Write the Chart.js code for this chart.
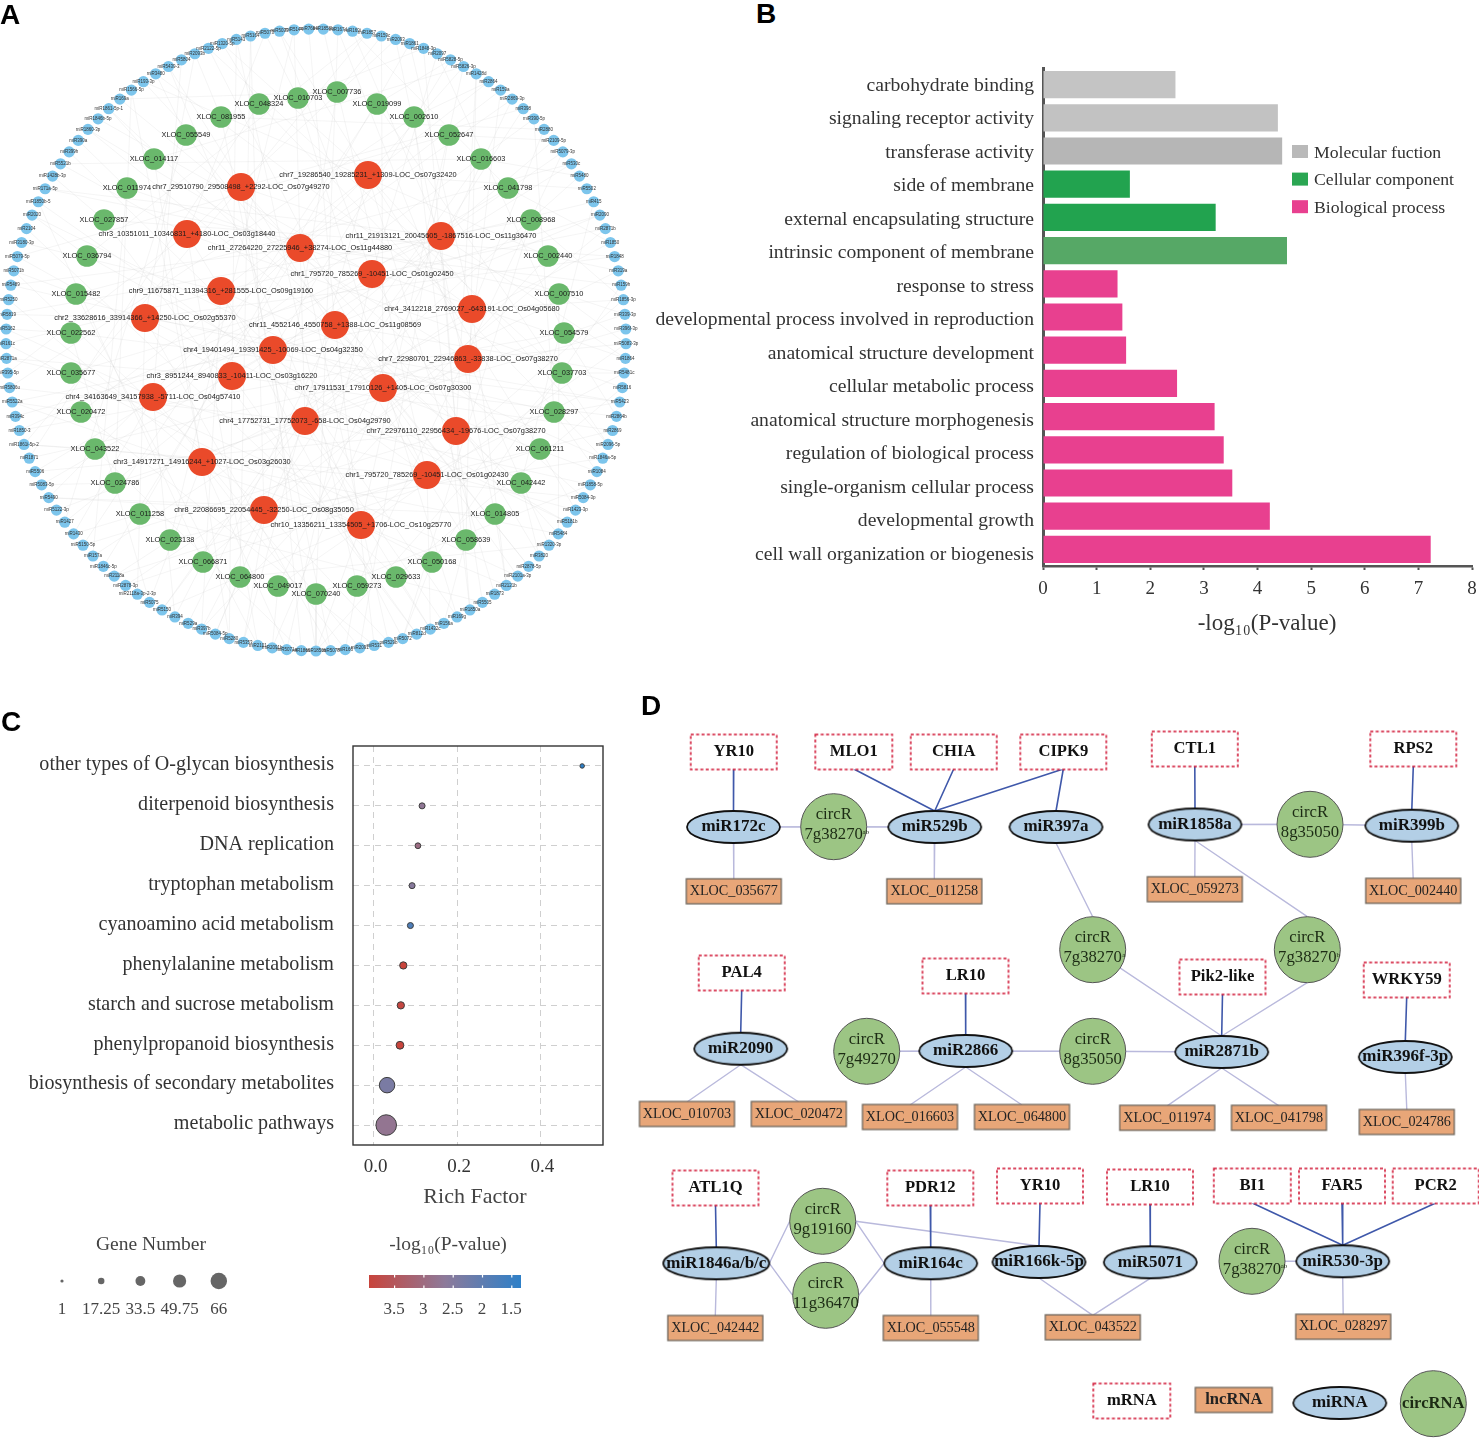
<!DOCTYPE html>
<html>
<head>
<meta charset="utf-8">
<title>circRNA network and enrichment</title>
<script src="https://cdn.jsdelivr.net/npm/chart.js"></script>
<style>
  body { margin: 0; background: #fff; }
  #page { position: relative; width: 1479px; height: 1438px; overflow: hidden; }
  canvas { position: absolute; }
  .letter { position: absolute; font: bold 28px "Liberation Sans", sans-serif; color: #000; line-height: 28px; }
</style>
</head>
<body>
<div id="page">
  <canvas id="chartA" width="650" height="665" style="left:0;top:0"></canvas>
  <canvas id="chartB" width="839" height="590" style="left:640px;top:60px"></canvas>
  <canvas id="chartC" width="630" height="610" style="left:0;top:730px"></canvas>
  <canvas id="chartD" width="849" height="738" style="left:630px;top:700px"></canvas>
  <div class="letter" style="left:0;top:1px">A</div>
  <div class="letter" style="left:756px;top:0">B</div>
  <div class="letter" style="left:1px;top:708px">C</div>
  <div class="letter" style="left:641px;top:692px">D</div>
</div>
<script>
// Panel A - network, node positions
const ringLabels = [
  'miR1858b','miR167d','miR169i','miR1857','miR159c','miR2093','miR1861','miR1848-3p','miR2097','miR5828-5p',
  'miR5826-3p','miR1428d','miR2864','miR159a','miR2869-3p','miR398','miR390-5p','miR2880','miR2109-5p','miR5079-3p',
  'miR530c','miR5480','miR5502','miR415','miR2090','miR2871b','miR1850','miR1848','miR319a','miR159h',
  'miR1856-3p','miR339-3p','miR396f-3p','miR5083-3p','miR1864','miR5481c','miR5816','miR5423','miR2864b','miR2869',
  'miR2096-5p','miR1846a-5p','miR1084','miR1858-5p','miR5084-3p','miR1423-3p','miR5181b','miR5484','miR1320-3p','miR3820',
  'miR2878-5p','miR2101a-3p','miR2121b','miR1873','miR5505','miR1850a','miR169g','miR156a','miR1432c','miR812d',
  'miR5072','miR529b','miR531','miR2091','miR166','miR5078','miR1850b','miR1866','miR5071a','miR2091b',
  'miR2101','miR5353','miR5280','miR5084-5p','miR397b','miR529a','miR394','miR5150','miR5075','miR2118a-3p-2-3p',
  'miR2878-3p','miR2118a','miR1846c-5p','miR157a','miR5150-5p','miR1430','miR1427','miR5122-3p','miR5490','miR5083-5p',
  'miR5506','miR1871','miR1861i-5p-2','miR1850-3','miR394c','miR5522a','miR5806u','miR395-5p','miR2871a','miR161c',
  'miR5162','miR5819','miR5250','miR5489','miR5071b','miR5079-5p','miR3180-3p','miR2104','miR2020','miR1850b-5',
  'miR171a-5p','miR1428b-3p','miR5521b','miR399h','miR390a','miR1860-3p','miR1846b-5p','miR1861-5p-1','miR169a','miR1566-5p',
  'miR193-3p','miR3480','miR5439-3','miR5804','miR2093b','miR2122-5p','miR1320-5p','miR5143','miR5164','miR5073',
  'miR5033','miR5144','miR7694'
];
const lncNames = [
  'XLOC_007736','XLOC_019099','XLOC_002610','XLOC_052647','XLOC_016603','XLOC_041798','XLOC_008968','XLOC_002440',
  'XLOC_007510','XLOC_054579','XLOC_037703','XLOC_028297','XLOC_061211','XLOC_042442','XLOC_014805','XLOC_058639',
  'XLOC_050168','XLOC_029633','XLOC_059273','XLOC_070240','XLOC_049017','XLOC_064800','XLOC_066871','XLOC_023138',
  'XLOC_011258','XLOC_024786','XLOC_043522','XLOC_020472','XLOC_035677','XLOC_022562','XLOC_015482','XLOC_036794',
  'XLOC_027857','XLOC_011974','XLOC_014117','XLOC_055549','XLOC_081955','XLOC_048324','XLOC_010703'
];
const lncX = [337,377,414,449,481,508,531,548,559,564,562,554,540,521,495,466,432,396,357,316,278,240,203,170,140,115,95,81,71,71,76,87,104,127,154,186,221,259,298];
const lncY = [92,104,117,135,159,188,220,256,294,333,373,412,449,483,514,540,562,577,586,594,586,577,562,540,514,483,449,412,373,333,294,256,220,188,159,135,117,104,98];
const lncLinks = [
  [4,71,118],[9,84,40],[12,96,55],[18,63,105],[21,77,112],[26,90,2],[30,101,60],[28,120,74],
  [33,110,47],[38,8,93],[35,125,66],[42,16,103],[45,130,80],[49,23,115],[52,88,5],[57,11,122],
  [60,29,99],[58,107,36],[64,19,127],[66,1,43],[69,33,14],[73,48,128],[76,25,109],[81,39,131],
  [85,6,54],[89,31,119],[92,44,67],[95,13,62],[98,51,24],[100,37,78],[104,20,70],[108,46,3],
  [111,59,27],[114,34,83],[117,10,72],[121,50,86],[124,17,65],[126,41,91],[129,7,56]
];
const circNames = [
  'chr7_29510790_29508498_+2292-LOC_Os07g49270','chr7_19286540_19285231_+1309-LOC_Os07g32420',
  'chr3_10351011_10346831_+4180-LOC_Os03g18440','chr11_27264220_27225946_+38274-LOC_Os11g44880',
  'chr11_21913121_20045605_-1867516-LOC_Os11g36470','chr1_795720_785269_-10451-LOC_Os01g02450',
  'chr9_11675871_11394316_+281555-LOC_Os09g19160','chr4_3412218_2769027_-643191-LOC_Os04g05680',
  'chr2_33628616_33914366_+14250-LOC_Os02g55370','chr11_4552146_4550758_+1388-LOC_Os11g08569',
  'chr4_19401494_19391425_-10069-LOC_Os04g32350','chr7_22980701_22946863_-33838-LOC_Os07g38270',
  'chr3_8951244_8940833_-10411-LOC_Os03g16220','chr7_17911531_17910126_+1405-LOC_Os07g30300',
  'chr4_34163649_34157938_-5711-LOC_Os04g57410','chr4_17752731_17752073_-658-LOC_Os04g29790',
  'chr7_22976110_22956434_-19676-LOC_Os07g38270','chr3_14917271_14916244_+1027-LOC_Os03g26030',
  'chr1_795720_785269_-10451-LOC_Os01g02430','chr8_22086695_22054445_-32250-LOC_Os08g35050',
  'chr10_13356211_13354505_+1706-LOC_Os10g25770'
];
const circX = [241,368,187,300,441,372,221,472,145,335,273,468,232,383,153,305,456,202,427,264,361];
const circY = [187,175,234,248,236,274,291,309,318,325,350,359,376,388,397,421,431,462,475,510,525];
const circLinks = [
  [3,47,92,120,15,66,31],[10,53,88,126,22,71,40],[112,36,70,5,58,97,129],[14,61,103,29,82,44,118],
  [19,77,110,2,55,93,34],[25,68,116,8,49,86,130],[106,41,74,12,60,99,23],[30,83,121,6,52,95,17],
  [101,37,65,124,27,79,46],[18,62,94,132,35,75,50],[113,42,67,9,56,89,24],[33,80,115,1,48,91,13],
  [105,39,72,20,59,98,127],[28,69,108,4,51,87,38],[100,45,76,123,16,63,85],[21,57,96,131,32,73,43],
  [37,84,117,7,54,90,11],[102,64,78,26,119,47,68],[35,81,109,0,58,92,125],[74,104,41,128,15,61,88],
  [52,77,122,30,66,95,10]
];

// Panel B - GO enrichment
const goTerms = [
  'carbohydrate binding','signaling receptor activity','transferase activity','side of membrane',
  'external encapsulating structure','intrinsic component of membrane','response to stress',
  'developmental process involved in reproduction','anatomical structure development','cellular metabolic process',
  'anatomical structure morphogenesis','regulation of biological process','single-organism cellular process',
  'developmental growth','cell wall organization or biogenesis'
];
const goValues = [2.47, 4.38, 4.46, 1.62, 3.22, 4.55, 1.39, 1.48, 1.55, 2.5, 3.2, 3.37, 3.53, 4.23, 7.23];
const goColors = ['#c4c4c4','#c2c2c2','#b6b6b6','#22a34f','#22a34f','#56a866','#e8408f','#e8408f','#e8408f','#e8408f','#e8408f','#e8408f','#e8408f','#e8408f','#e8408f'];
const goLegend = ['Molecular fuction', 'Cellular component', 'Biological process'];
const goLegendColors = ['#b9b9b9', '#2aa652', '#e8408f'];

// Panel C - KEGG dots
const pathways = [
  'other types of O-glycan biosynthesis','diterpenoid biosynthesis','DNA replication','tryptophan metabolism',
  'cyanoamino acid metabolism','phenylalanine metabolism','starch and sucrose metabolism','phenylpropanoid biosynthesis',
  'biosynthesis of secondary metabolites','metabolic pathways'
];
const richFactor = [0.5, 0.116, 0.106, 0.092, 0.088, 0.071, 0.065, 0.063, 0.032, 0.03];
const geneNumber = [3, 9, 8, 9, 9, 14, 14, 16, 46, 66];
const logP = [1.5, 2.55, 2.75, 2.45, 1.85, 3.5, 3.45, 3.5, 2.3, 2.6];
const richTicks = [0, 0.2, 0.4];
const geneLegend = [1, 17.25, 33.5, 49.75, 66];
const logPLegend = [3.5, 3, 2.5, 2, 1.5];

// Panel D - regulatory network, nodes are placed by page position
const mrnaNames = ['YR10','MLO1','CHIA','CIPK9','CTL1','RPS2','PAL4','LR10','Pik2-like','WRKY59','ATL1Q','PDR12','YR10','LR10','BI1','FAR5','PCR2','mRNA'];
const mrnaX = [733.7,853.8,953.7,1063.3,1194.8,1413.3,741.7,965.5,1222.5,1406.7,715.5,930.3,1040,1150,1252.3,1342,1435.7,1131.8];
const mrnaY = [752,752,752,752,749,749,973,976,977,980,1188,1188,1186,1187,1186,1186,1186,1401];
const mirNames = ['miR172c','miR529b','miR397a','miR1858a','miR399b','miR2090','miR2866','miR2871b','miR396f-3p','miR1846a/b/c','miR164c','miR166k-5p','miR5071','miR530-3p','miRNA'];
const mirX = [733.5,934.7,1056,1195,1411.8,740.7,965.7,1221.7,1405.3,716.3,930.7,1039,1150.3,1342.7,1339.8];
const mirY = [827,827,827,824.5,825.7,1048.7,1051,1052,1057,1263.3,1263.3,1262,1262.3,1261.3,1403];
const lncBoxNames = ['XLOC_035677','XLOC_011258','XLOC_059273','XLOC_002440','XLOC_010703','XLOC_020472','XLOC_016603','XLOC_064800','XLOC_011974','XLOC_041798','XLOC_024786','XLOC_042442','XLOC_055548','XLOC_043522','XLOC_028297','lncRNA'];
const lncBoxX = [733.8,934.3,1194.8,1413.2,687,798.8,910,1022,1167.2,1279,1406.8,715.3,930.8,1092.8,1343.2,1233.8];
const lncBoxY = [891.3,891.3,889.2,890.8,1114,1114,1117,1117,1117.8,1117.8,1122,1328,1328,1327.3,1326.7,1400];
const circTop = ['circR','circR','circR','circR','circR','circR','circR','circR','circR',''];
const circBottom = ['7g38270','8g35050','7g38270','7g38270','7g49270','8g35050','9g19160','11g36470','7g38270','circRNA'];
const circSup = ['ab','','a','b','','','','','ab',''];
const circNodeX = [833.7,1310,1092.7,1307.3,866.7,1092.7,822.7,825.7,1252,1433.3];
const circNodeY = [826.7,824.3,949.7,949.7,1051.3,1051.3,1221.3,1295.3,1261.3,1403.7];
// [mRNA, miRNA]
const targetEdges = [[0,0],[1,1],[2,1],[3,1],[3,2],[4,3],[5,4],[6,5],[7,6],[8,7],[9,8],[10,9],[11,10],[12,11],[13,12],[14,13],[15,13],[16,13]];
// [miRNA, lncRNA]
const lncEdges = [[0,0],[1,1],[3,2],[4,3],[5,4],[5,5],[6,6],[6,7],[7,8],[7,9],[8,10],[9,11],[10,12],[11,13],[12,13],[13,14]];
// [miRNA, side, circRNA, side]  c centre, t top, b bottom, l left, r right
const circEdges = [
  [0,'c',0,'c'],[1,'c',0,'c'],[3,'c',1,'c'],[4,'c',1,'c'],[2,'b',2,'t'],[3,'b',3,'t'],[7,'t',2,'c'],[7,'t',3,'b'],
  [6,'c',4,'c'],[6,'c',5,'c'],[7,'c',5,'c'],[9,'r',6,'l'],[9,'r',7,'l'],[10,'l',6,'r'],[10,'l',7,'r'],[11,'t',6,'r'],[13,'c',8,'c']
];

Chart.defaults.animation = false;
Chart.defaults.responsive = false;
Chart.defaults.layout.autoPadding = false;
Chart.defaults.plugins.legend.display = false;
Chart.defaults.plugins.tooltip.enabled = false;

const SERIF = '"Liberation Serif", serif';
const SANS = '"Liberation Sans", sans-serif';

function pts(xs, ys) {
  return xs.map((x, i) => ({ x: x, y: ys[i] }));
}

// two point segments split by NaN so one dataset holds the whole edge list
function segments(list) {
  const out = [];
  list.forEach(s => { out.push(s[0], s[1], { x: NaN, y: NaN }); });
  return out;
}

function labelPoints(chart, index, labels, font, color) {
  const ctx = chart.ctx;
  ctx.save();
  ctx.font = font;
  ctx.fillStyle = color;
  ctx.textAlign = 'center';
  ctx.textBaseline = 'middle';
  chart.getDatasetMeta(index).data.forEach((p, i) => {
    ctx.fillText(labels[i], p.x, p.y);
  });
  ctx.restore();
}

function hiddenAxes(x0, x1, y0, y1) {
  return {
    x: { type: 'linear', display: false, min: x0, max: x1 },
    y: { type: 'linear', display: false, min: y0, max: y1, reverse: true }
  };
}

// stop the tick labels from pushing the plot area in
function noLabelPadding(scale) {
  scale.paddingTop = 0;
  scale.paddingBottom = 0;
  scale.paddingLeft = 0;
  scale.paddingRight = 0;
}

/* ---------- A ---------- */
// the miRNAs sit evenly on a ring, only their order comes from the list
const ringCx = 316, ringCy = 340, ringRx = 310, ringRy = 311;
const ringPts = ringLabels.map((name, i) => {
  const a = (i + 0.5) / ringLabels.length * 2 * Math.PI;
  return { x: ringCx + ringRx * Math.sin(a), y: ringCy - ringRy * Math.cos(a) };
});
const lncPts = pts(lncX, lncY);
const circPts = pts(circX, circY);
const netEdges = [];
lncLinks.forEach((l, i) => l.forEach(t => netEdges.push([lncPts[i], ringPts[t]])));
circLinks.forEach((l, i) => l.forEach(t => netEdges.push([circPts[i], ringPts[t]])));

new Chart(document.getElementById('chartA'), {
  type: 'scatter',
  data: {
    datasets: [
      { data: segments(netEdges), showLine: true, borderColor: 'rgba(190,190,190,0.22)', borderWidth: 0.7, pointRadius: 0, order: 4 },
      { data: ringPts, backgroundColor: '#7cc5ec', pointRadius: 5.6, pointBorderWidth: 0, order: 3 },
      { data: lncPts, backgroundColor: '#6ab86c', pointRadius: 10.8, pointBorderWidth: 0, order: 2 },
      { data: circPts, backgroundColor: '#ea4a2a', pointRadius: 14, pointBorderWidth: 0, order: 1 }
    ]
  },
  options: {
    scales: hiddenAxes(0, 650, 0, 665),
    layout: { padding: 0 }
  },
  plugins: [{
    id: 'netLabels',
    afterDatasetsDraw(chart) {
      labelPoints(chart, 1, ringLabels, '4.5px ' + SANS, '#333');
      labelPoints(chart, 2, lncNames, '7.4px ' + SANS, '#1a1a1a');
      labelPoints(chart, 3, circNames, '7.4px ' + SANS, '#1a1a1a');
    }
  }]
});

/* ---------- B ---------- */
new Chart(document.getElementById('chartB'), {
  type: 'bar',
  data: {
    labels: goTerms,
    datasets: [{ data: goValues, backgroundColor: goColors, barPercentage: 0.82, categoryPercentage: 1 }]
  },
  options: {
    indexAxis: 'y',
    layout: { padding: { top: 8, right: 7, bottom: 0, left: 0 } },
    scales: {
      x: {
        min: 0, max: 8,
        ticks: { stepSize: 1, color: '#333', padding: 8, font: { family: SERIF, size: 19 }, maxRotation: 0 },
        grid: { drawOnChartArea: false, tickLength: 4, tickColor: '#555', tickWidth: 2 },
        border: { color: '#555', width: 2.5 },
        afterFit(scale) { noLabelPadding(scale); scale.height = 84; }
      },
      y: {
        ticks: { color: '#333', padding: 9, labelOffset: 1, font: { family: SERIF, size: 19.65 }, autoSkip: false },
        grid: { display: false, drawTicks: false },
        border: { color: '#555', width: 3 },
        afterFit(scale) {
          noLabelPadding(scale);
          scale.width = 403;
          // the labels in the figure run a little wider apart than the bars
          const base = Object.getPrototypeOf(scale).getPixelForTick;
          scale.getPixelForTick = i => base.call(scale, i) + i * 0.3;
        }
      }
    }
  },
  plugins: [{
    id: 'goLegend',
    afterDraw(chart) {
      const ctx = chart.ctx;
      ctx.save();
      ctx.font = '23px ' + SERIF;
      ctx.fillStyle = '#333';
      ctx.textAlign = 'center';
      ctx.textBaseline = 'middle';
      ctx.fillText('-log₁₀(P-value)', 627, 564);
      ctx.textAlign = 'left';
      ctx.font = '17.7px ' + SERIF;
      goLegend.forEach((name, i) => {
        const y = 92 + i * 27.6;
        ctx.fillStyle = goLegendColors[i];
        ctx.fillRect(652, y - 7, 16, 13);
        ctx.fillStyle = '#333';
        ctx.fillText(name, 674, y + 1);
      });
      ctx.restore();
    }
  }]
});

/* ---------- C ---------- */
function bubbleSize(n) {
  return 2 + (n - 1) * 8.3 / 65;
}

function mix(a, b, t) {
  return a.map((v, i) => Math.round(v + (b[i] - v) * t));
}

// same ramp as the colour bar under the plot
function logPColor(p) {
  const t = Math.min(1, Math.max(0, (3.5 - p) / 2));
  const red = [200, 68, 60], mid = [141, 122, 154], blue = [46, 128, 200];
  const c = t < 0.5 ? mix(red, mid, t * 2) : mix(mid, blue, (t - 0.5) * 2);
  return 'rgb(' + c.join(',') + ')';
}

new Chart(document.getElementById('chartC'), {
  type: 'bubble',
  data: {
    datasets: [{
      data: pathways.map((name, i) => ({ x: richFactor[i], y: name, r: bubbleSize(geneNumber[i]) })),
      backgroundColor: logP.map(logPColor),
      borderColor: '#3c3c3c',
      borderWidth: 1,
      clip: false
    }]
  },
  options: {
    layout: { padding: { top: 16, right: 27, bottom: 129, left: 0 } },
    scales: {
      x: {
        type: 'linear', min: -0.0497, max: 0.55,
        afterBuildTicks(scale) { scale.ticks = richTicks.map(v => ({ value: v })); },
        ticks: { color: '#333', padding: 11, labelOffset: 2, font: { family: SERIF, size: 19 }, callback: v => v.toFixed(1), maxRotation: 0 },
        grid: { color: '#cfcfcf', drawTicks: false },
        border: { display: false, dash: [6, 5] },
        afterFit(scale) { noLabelPadding(scale); scale.height = 66; }
      },
      y: {
        type: 'category', labels: pathways, offset: true,
        ticks: { color: '#333', padding: 19, labelOffset: -1, font: { family: SERIF, size: 20.1 }, autoSkip: false },
        grid: { color: '#cfcfcf', drawTicks: false },
        border: { display: false, dash: [6, 5] },
        afterFit(scale) { noLabelPadding(scale); scale.width = 353; }
      }
    }
  },
  plugins: [{
    id: 'dotLegends',
    afterDraw(chart) {
      const ctx = chart.ctx, area = chart.chartArea;
      ctx.save();
      ctx.strokeStyle = '#333';
      ctx.lineWidth = 1.4;
      ctx.strokeRect(area.left, area.top, area.right - area.left, area.bottom - area.top);

      ctx.textAlign = 'center';
      ctx.textBaseline = 'middle';
      ctx.fillStyle = '#444';
      ctx.font = '22px ' + SERIF;
      ctx.fillText('Rich Factor', 475, 467);
      ctx.font = '19.5px ' + SERIF;
      ctx.fillText('Gene Number', 151, 515);
      ctx.fillText('-log₁₀(P-value)', 448, 515);

      ctx.font = '17px ' + SERIF;
      geneLegend.forEach((n, i) => {
        const x = 62 + i * 39.2;
        ctx.fillStyle = '#666';
        ctx.beginPath();
        ctx.arc(x, 551, bubbleSize(n) * 0.8, 0, Math.PI * 2);
        ctx.fill();
        ctx.fillStyle = '#444';
        ctx.fillText(String(n), x, 580);
      });

      // colour bar
      const grad = ctx.createLinearGradient(369, 0, 521, 0);
      grad.addColorStop(0, logPColor(3.7));
      grad.addColorStop(0.5, logPColor(2.5));
      grad.addColorStop(1, logPColor(1.3));
      ctx.fillStyle = grad;
      ctx.fillRect(369, 545, 152, 13);
      logPLegend.forEach((v, i) => {
        const x = 394 + i * 29.3;
        ctx.fillStyle = '#fff';
        ctx.fillRect(x, 545, 1.2, 2.5);
        ctx.fillRect(x, 555.5, 1.2, 2.5);
        ctx.fillStyle = '#444';
        ctx.fillText(String(v), x, 580);
      });
      ctx.restore();
    }
  }]
});

/* ---------- D ---------- */
function shape(w, h, draw) {
  const c = document.createElement('canvas');
  c.width = w + 6;
  c.height = h + 6;
  const ctx = c.getContext('2d');
  ctx.translate(3, 3);
  draw(ctx);
  return c;
}

function dashedBox(w) {
  return shape(w, 35, ctx => {
    ctx.fillStyle = '#fff';
    ctx.fillRect(0, 0, w, 35);
    ctx.strokeStyle = '#d01030';
    ctx.lineWidth = 1.5;
    ctx.setLineDash([3, 2.4]);
    ctx.strokeRect(0, 0, w, 35);
  });
}

function lncBox(w) {
  return shape(w, 25, ctx => {
    ctx.fillStyle = '#e8a678';
    ctx.fillRect(0, 0, w, 25);
    ctx.strokeStyle = '#6d665c';
    ctx.lineWidth = 1.3;
    ctx.strokeRect(0, 0, w, 25);
  });
}

function mirOval(w) {
  return shape(w, 32, ctx => {
    ctx.fillStyle = '#b3cfe6';
    ctx.strokeStyle = '#111';
    ctx.lineWidth = 1.8;
    ctx.beginPath();
    ctx.ellipse(w / 2, 16, w / 2, 16, 0, 0, Math.PI * 2);
    ctx.fill();
    ctx.stroke();
  });
}

const wideBox = dashedBox(86), narrowBox = dashedBox(77);
const lncWide = lncBox(95), lncNarrow = lncBox(77);
const ovalStd = mirOval(93), ovalWide = mirOval(106);

const mirW = i => (mirNames[i] === 'miR1846a/b/c' ? 106 : 93);
const anchor = (x, y, hw, hh, side) => {
  if (side === 't') return { x: x, y: y - hh };
  if (side === 'b') return { x: x, y: y + hh };
  if (side === 'l') return { x: x - hw, y: y };
  if (side === 'r') return { x: x + hw, y: y };
  return { x: x, y: y };
};
const mirAt = (i, side) => anchor(mirX[i], mirY[i], mirW(i) / 2, 16, side);
const circAt = (i, side) => anchor(circNodeX[i], circNodeY[i], 33, 33, side);

const blueSegs = targetEdges.map(e => [{ x: mrnaX[e[0]], y: mrnaY[e[0]] + 17 }, mirAt(e[1], 't')]);
const softSegs = lncEdges.map(e => [mirAt(e[0], 'b'), { x: lncBoxX[e[1]], y: lncBoxY[e[1]] - 12 }])
  .concat(circEdges.map(e => [mirAt(e[0], e[1]), circAt(e[2], e[3])]));

new Chart(document.getElementById('chartD'), {
  type: 'scatter',
  data: {
    datasets: [
      { data: segments(softSegs), showLine: true, borderColor: '#b9b9dc', borderWidth: 1.4, pointRadius: 0, order: 6, clip: false },
      { data: segments(blueSegs), showLine: true, borderColor: '#3f58aa', borderWidth: 1.6, pointRadius: 0, order: 5, clip: false },
      { data: pts(mrnaX, mrnaY), pointRadius: 5, clip: false, order: 4,
        pointStyle: c => (['MLO1', 'BI1', 'mRNA'].includes(mrnaNames[c.dataIndex]) ? narrowBox : wideBox) },
      { data: pts(mirX, mirY), pointRadius: 5, clip: false, order: 3,
        pointStyle: c => (mirW(c.dataIndex) === 106 ? ovalWide : ovalStd) },
      { data: pts(lncBoxX, lncBoxY), pointRadius: 5, clip: false, order: 2,
        pointStyle: c => (lncBoxNames[c.dataIndex] === 'lncRNA' ? lncNarrow : lncWide) },
      { data: pts(circNodeX, circNodeY), pointRadius: 33, backgroundColor: '#9cc584', pointBorderColor: '#555', pointBorderWidth: 1, clip: false, order: 1 }
    ]
  },
  options: {
    scales: hiddenAxes(630, 1479, 700, 1438),
    layout: { padding: 0 }
  },
  plugins: [{
    id: 'nodeText',
    afterDatasetsDraw(chart) {
      const ctx = chart.ctx;
      labelPoints(chart, 2, mrnaNames, 'bold 16.6px ' + SERIF, '#111');
      labelPoints(chart, 3, mirNames, 'bold 17px ' + SERIF, '#111');
      ctx.save();
      ctx.textAlign = 'center';
      ctx.textBaseline = 'middle';
      chart.getDatasetMeta(4).data.forEach((p, i) => {
        const name = lncBoxNames[i];
        ctx.font = name === 'lncRNA' ? 'bold 16.6px ' + SERIF : '14.2px ' + SERIF;
        ctx.fillStyle = '#222';
        ctx.fillText(name, p.x, p.y);
      });
      chart.getDatasetMeta(5).data.forEach((p, i) => {
        ctx.fillStyle = '#1c2b14';
        if (circTop[i] === '') {
          ctx.font = 'bold 16.6px ' + SERIF;
          ctx.fillText(circBottom[i], p.x, p.y);
          return;
        }
        ctx.font = '16.7px ' + SERIF;
        ctx.fillText(circTop[i], p.x, p.y - 12);
        ctx.fillText(circBottom[i], p.x, p.y + 8);
        if (circSup[i]) {
          ctx.font = '7px ' + SERIF;
          ctx.fillText(circSup[i], p.x + 30 + circSup[i].length, p.y + 5);
        }
      });
      ctx.restore();
    }
  }]
});
</script>
</body>
</html>
